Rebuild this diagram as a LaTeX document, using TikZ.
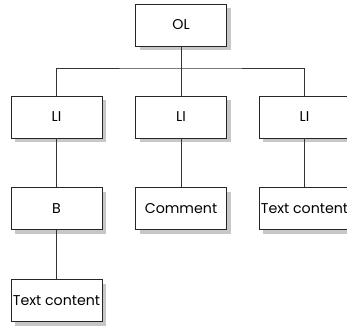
\documentclass[tikz,border=0pt]{standalone}
\usepackage{fontspec}
\setmainfont{Poppins}
\usetikzlibrary{shadows}
\tikzset{
  box/.style={draw=black!85, line width=0.7pt, fill=white, minimum width=91pt, minimum height=42pt, inner sep=0pt,
    font=\fontsize{14.2}{16}\selectfont,
    drop shadow={shadow xshift=4pt, shadow yshift=-4pt, fill=black!22, opacity=1}},
  link/.style={draw=black!80, line width=0.7pt}
}
\begin{document}
\begin{tikzpicture}[x=1pt,y=-1pt]
\useasboundingbox (0,0) rectangle (347,325);
\begin{scope}
\clip (0,0) rectangle (347,325);
\node[box] (ol) at (181,25) {OL};
\node[box] (li1) at (56.5,117) {LI};
\node[box] (li2) at (181,117) {LI};
\node[box] (li3) at (304.5,117) {LI};
\node[box] (b) at (56.5,208.5) {B};
\node[box] (cm) at (181,208.5) {Comment};
\node[box] (t2) at (304.5,208.5) {Text content};
\node[box] (t1) at (56.5,300.5) {Text content};
\coordinate (bus) at (181,68);
\draw[link] (ol.south) -- (bus);
\draw[link] (li1.north) |- (bus) -| (li3.north);
\draw[link] (bus) -- (li2.north);
\draw[link] (li1.south) -- (b.north);
\draw[link] (li2.south) -- (cm.north);
\draw[link] (li3.south) -- (t2.north);
\draw[link] (b.south) -- (t1.north);
\end{scope}
\end{tikzpicture}
\end{document}
